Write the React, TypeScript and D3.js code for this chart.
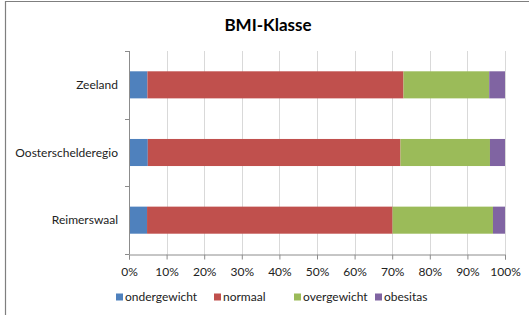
import React, { useRef, useEffect } from 'react';
import * as d3 from 'd3';

const regions = ['Zeeland', 'Oosterschelderegio', 'Reimerswaal'];
const classes = ['ondergewicht', 'normaal', 'overgewicht', 'obesitas'];
const ondergewicht = [4.9, 5.0, 4.8];
const normaal = [68.1, 67.2, 65.3];
const overgewicht = [22.8, 23.8, 26.7];
const obesitas = [4.2, 4.0, 3.2];
const colors = ['#4F81BD', '#C0504D', '#9BBB59', '#8064A2'];
const ticks = [0, 10, 20, 30, 40, 50, 60, 70, 80, 90, 100];

const W = 529;
const H = 315;
const FONT = 'Lato, "Open Sans", sans-serif';

const BMIChart = () => {
  const svgRef = useRef<SVGSVGElement>(null);

  useEffect(() => {
    const svg = d3.select(svgRef.current);
    svg.selectAll('*').remove();

    const left = 129, right = 505, top = 51, bottom = 254;

    const rows = regions.map((r, i) => ({
      region: r,
      ondergewicht: ondergewicht[i],
      normaal: normaal[i],
      overgewicht: overgewicht[i],
      obesitas: obesitas[i],
    }));

    const x = d3.scaleLinear().domain([0, 100]).range([left, right]);
    const y = d3.scaleBand().domain(regions).range([top, bottom]).paddingInner(0.6).paddingOuter(0.3);

    const series = d3.stack().keys(classes)(rows as any);

    // frame
    svg.append('path')
      .attr('d', `M5.5,${H} V1.5 H${W}`)
      .attr('fill', 'none')
      .attr('stroke', '#7f7f7f')
      .attr('stroke-width', 1.2);

    svg.append('text')
      .attr('x', 268)
      .attr('y', 31)
      .attr('text-anchor', 'middle')
      .attr('font-family', FONT)
      .attr('font-weight', 'bold')
      .attr('font-size', 17)
      .attr('fill', '#000')
      .text('BMI-Klasse');

    // gridlines
    svg.append('g')
      .selectAll('line')
      .data(ticks.slice(1))
      .join('line')
      .attr('x1', d => Math.round(x(d)) + 0.5)
      .attr('x2', d => Math.round(x(d)) + 0.5)
      .attr('y1', top)
      .attr('y2', bottom)
      .attr('stroke', '#d9d9d9');

    // bars
    svg.append('g')
      .selectAll('g')
      .data(series)
      .join('g')
      .attr('fill', (d, i) => colors[i])
      .selectAll('rect')
      .data(d => d)
      .join('rect')
      .attr('x', d => x(d[0]))
      .attr('width', d => x(d[1]) - x(d[0]))
      .attr('y', d => y((d.data as any).region)!)
      .attr('height', y.bandwidth());

    // y axis
    const yAxis = svg.append('g');
    yAxis.append('line')
      .attr('x1', left + 0.5).attr('x2', left + 0.5).attr('y1', top).attr('y2', bottom)
      .attr('stroke', '#8c8c8c');
    const step = (bottom - top) / regions.length;
    yAxis.selectAll('line.tk')
      .data(d3.range(regions.length + 1))
      .join('line')
      .attr('class', 'tk')
      .attr('x1', left - 4).attr('x2', left + 0.5)
      .attr('y1', d => Math.round(top + d * step) + 0.5)
      .attr('y2', d => Math.round(top + d * step) + 0.5)
      .attr('stroke', '#8c8c8c');
    yAxis.selectAll('text')
      .data(regions)
      .join('text')
      .attr('x', 118)
      .attr('y', d => y(d)! + y.bandwidth() / 2)
      .attr('dy', '0.35em')
      .attr('text-anchor', 'end')
      .attr('font-family', FONT)
      .attr('font-size', 12)
      .attr('fill', '#222')
      .text(d => d);

    // x axis
    const xAxis = svg.append('g')
      .attr('transform', `translate(0,${bottom + 0.5})`)
      .call(d3.axisBottom(x).tickValues(ticks).tickSize(5).tickFormat(d => `${d}%`));
    xAxis.select('.domain').attr('stroke', '#8c8c8c');
    xAxis.selectAll('.tick line').attr('stroke', '#8c8c8c');
    xAxis.selectAll('.tick text')
      .attr('y', 17)
      .attr('dy', '0.35em')
      .attr('font-family', FONT)
      .attr('font-size', 12)
      .attr('fill', '#222');

    // legend
    const legendX = [116, 214, 294, 375];
    const legend = svg.append('g')
      .selectAll('g')
      .data(classes)
      .join('g')
      .attr('transform', (d, i) => `translate(${legendX[i]},297)`);
    legend.append('rect')
      .attr('x', 0).attr('y', -3.5)
      .attr('width', 7).attr('height', 7)
      .attr('fill', (d, i) => colors[i]);
    legend.append('text')
      .attr('x', 9)
      .attr('dy', '0.35em')
      .attr('font-family', FONT)
      .attr('font-size', 12)
      .attr('fill', '#222')
      .text(d => d);
  }, []);

  return <svg ref={svgRef} width={W} height={H} style={{ position: 'absolute', left: 0, top: 0, background: '#fff' }} />;
};

export default function App() {
  return <BMIChart />;
}
